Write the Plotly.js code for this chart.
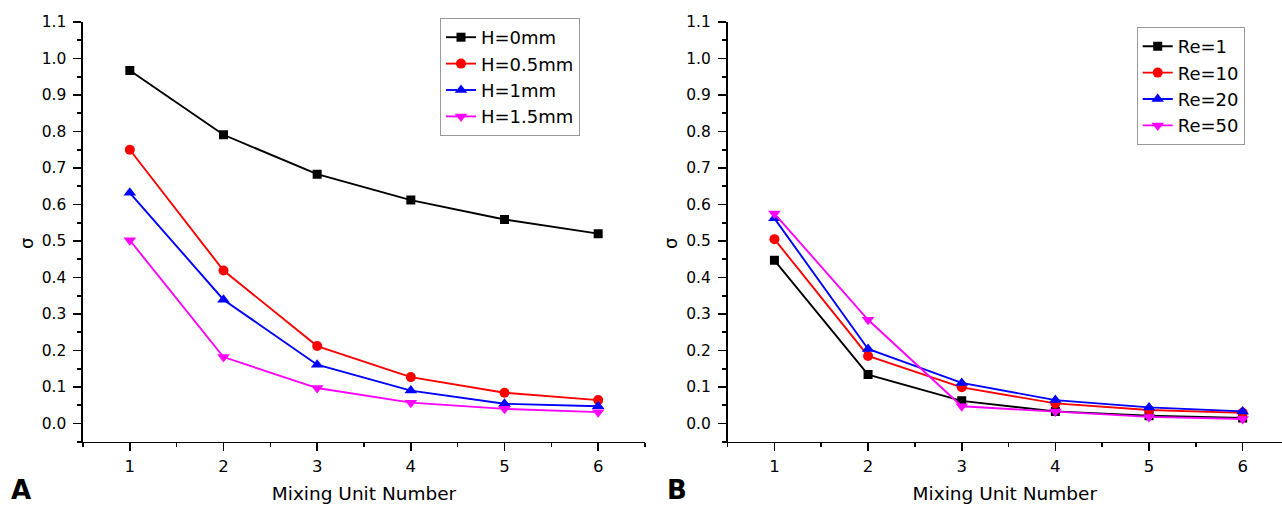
<!DOCTYPE html>
<html>
<head>
<meta charset="utf-8">
<script src="https://cdn.plot.ly/plotly-3.0.1.min.js"></script>
<style>html,body{margin:0;padding:0;background:#fff;}#chart{width:1282px;height:507px;}</style>
</head>
<body>
<div id="chart"></div>
<script>
const mixingUnits = [1, 2, 3, 4, 5, 6];

const namesA = ["H=0mm", "H=0.5mm", "H=1mm", "H=1.5mm"];
const sigmaH0 = [0.967, 0.791, 0.683, 0.612, 0.559, 0.520];
const sigmaH05 = [0.750, 0.419, 0.212, 0.127, 0.084, 0.064];
const sigmaH1 = [0.632, 0.339, 0.161, 0.090, 0.054, 0.047];
const sigmaH15 = [0.502, 0.182, 0.097, 0.057, 0.040, 0.031];

const namesB = ["Re=1", "Re=10", "Re=20", "Re=50"];
const sigmaRe1 = [0.447, 0.134, 0.062, 0.033, 0.021, 0.015];
const sigmaRe10 = [0.505, 0.185, 0.099, 0.055, 0.037, 0.029];
const sigmaRe20 = [0.562, 0.204, 0.111, 0.064, 0.044, 0.033];
const sigmaRe50 = [0.575, 0.284, 0.047, 0.033, 0.018, 0.012];

const xTitle = "Mixing Unit Number";
const yTitle = "σ";
const panelLabels = ["A", "B"];

const colors = ["#000000", "#ff0000", "#0000ff", "#ff00ff"];
const symbols = ["square", "circle", "triangle-up", "triangle-down"];
const sizes = [9, 10, 11, 11];

const seriesA = [sigmaH0, sigmaH05, sigmaH1, sigmaH15];
const seriesB = [sigmaRe1, sigmaRe10, sigmaRe20, sigmaRe50];

const traces = [];
seriesA.forEach((ys, i) => traces.push({
  x: mixingUnits, y: ys, name: namesA[i], type: "scatter", mode: "lines+markers",
  line: {color: colors[i], width: 1.9},
  marker: {color: colors[i], symbol: symbols[i], size: sizes[i]},
  xaxis: "x", yaxis: "y", legend: "legend"
}));
seriesB.forEach((ys, i) => traces.push({
  x: mixingUnits, y: ys, name: namesB[i], type: "scatter", mode: "lines+markers",
  line: {color: colors[i], width: 1.9},
  marker: {color: colors[i], symbol: symbols[i], size: sizes[i]},
  xaxis: "x2", yaxis: "y2", legend: "legend2"
}));

const W = 1282, H = 507;
const fontFam = "DejaVu Sans, Liberation Sans, Arial, sans-serif";

function xax(d0, d1, r1, anchor) {
  return {
    domain: [d0 / W, d1 / W], range: [0.5, r1], anchor: anchor,
    showline: true, linecolor: "#000", linewidth: 1.6, showgrid: false, zeroline: false,
    ticks: "outside", ticklen: 8, tickwidth: 1.6, tickcolor: "#000",
    tick0: 0, dtick: 1, ticklabelstandoff: 1,
    tickfont: {family: fontFam, size: 16.5, color: "#000"},
    minor: {ticks: "outside", ticklen: 4, tickwidth: 1.6, tickcolor: "#000", dtick: 0.5, tick0: 0.5, showgrid: false},
    title: {text: xTitle, font: {family: fontFam, size: 18.5, color: "#000"}, standoff: 12},
    automargin: false
  };
}
function yax(anchor) {
  return {
    domain: [1 - 441.7 / H, 1 - 22 / H], range: [-0.05, 1.1], anchor: anchor,
    showline: true, linecolor: "#000", linewidth: 1.6, showgrid: false, zeroline: false,
    ticks: "outside", ticklen: 8, tickwidth: 1.6, tickcolor: "#000",
    tick0: 0, dtick: 0.1, tickformat: ".1f", ticklabelstandoff: 4,
    tickfont: {family: fontFam, size: 15.5, color: "#000"},
    minor: {ticks: "outside", ticklen: 4, tickwidth: 1.6, tickcolor: "#000", dtick: 0.05, showgrid: false},
    automargin: false
  };
}

const legendFont = {family: fontFam, size: 18, color: "#000"};
const layout = {
  width: W, height: H,
  margin: {l: 0, r: 0, t: 0, b: 0},
  paper_bgcolor: "#fff", plot_bgcolor: "rgba(0,0,0,0)",
  showlegend: true,
  xaxis: xax(83, 645, 6.5, "y"),
  yaxis: yax("x"),
  xaxis2: xax(727.6, 1282, 6.42, "y2"),
  yaxis2: yax("x2"),
  legend: {x: 440 / W, y: 1 - 18 / H, xanchor: "left", yanchor: "top",
    bgcolor: "#fff", bordercolor: "#999", borderwidth: 1, font: legendFont, tracegroupgap: 0},
  legend2: {x: 1136.7 / W, y: 1 - 27 / H, xanchor: "left", yanchor: "top",
    bgcolor: "#fff", bordercolor: "#999", borderwidth: 1, font: legendFont, tracegroupgap: 0},
  annotations: [
    {text: yTitle, xref: "paper", yref: "paper", x: 26 / W, y: 1 - 244 / H, xanchor: "center", yanchor: "middle",
      textangle: -90, showarrow: false, font: {family: fontFam, size: 18, color: "#000"}},
    {text: yTitle, xref: "paper", yref: "paper", x: 670 / W, y: 1 - 244 / H, xanchor: "center", yanchor: "middle",
      textangle: -90, showarrow: false, font: {family: fontFam, size: 18, color: "#000"}},
    {text: "<b>" + panelLabels[0] + "</b>", xref: "paper", yref: "paper", x: 21 / W, y: 1 - 490 / H, xanchor: "center", yanchor: "middle",
      showarrow: false, font: {family: fontFam, size: 26, color: "#000"}},
    {text: "<b>" + panelLabels[1] + "</b>", xref: "paper", yref: "paper", x: 677 / W, y: 1 - 490 / H, xanchor: "center", yanchor: "middle",
      showarrow: false, font: {family: fontFam, size: 26, color: "#000"}}
  ]
};

Plotly.newPlot("chart", traces, layout, {staticPlot: true, displayModeBar: false});
</script>
</body>
</html>
